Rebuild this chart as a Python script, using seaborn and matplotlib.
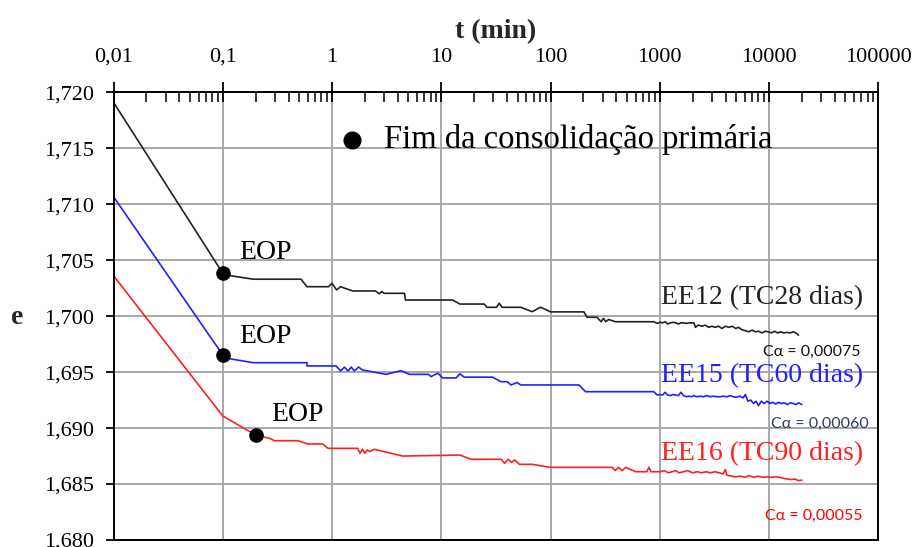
import matplotlib
matplotlib.use("Agg")
import matplotlib.pyplot as plt
import matplotlib.ticker as mticker
import numpy as np
import pandas as pd
import seaborn as sns

# ---- data: void ratio e versus time t (min) ----
t_ee12 = [0.01, 0.1, 0.12, 0.19, 0.52, 0.59, 0.93, 1.0, 1.1, 1.2, 1.3, 1.55, 2.5, 2.7,
          2.85, 3.0, 4.6, 4.7, 12.7, 14.8, 24.7, 26.2, 32, 33.9, 36, 53.5, 68, 81, 100,
          202, 216, 267, 290, 305, 320, 340, 394, 880,
          950, 1000, 1060, 1120, 1180, 1250, 1320, 1400, 1480, 1560, 1650, 1750, 1850,
          1950, 2050, 2120, 2250, 2440, 2600, 2800, 3000, 3200, 3450, 3700, 4000, 4300,
          4600, 4950, 5270, 5600, 6070, 6500, 7000, 7500, 8000, 8600, 9200, 9800, 10500,
          11200, 12000, 12800, 13700, 14600, 15600, 16600, 17600, 18600]
e_ee12 = [1.7191, 1.70383, 1.7036, 1.7033, 1.7033, 1.70263, 1.70263, 1.70293, 1.70234,
          1.70264, 1.7025, 1.70225, 1.70225, 1.7020, 1.7022, 1.70204, 1.70204, 1.70144,
          1.70144, 1.70108, 1.70108, 1.70079, 1.70079, 1.70115, 1.70079, 1.70079,
          1.7004, 1.7008, 1.70038, 1.70038, 1.6999, 1.6999, 1.6995, 1.6998, 1.6995,
          1.6997, 1.6995, 1.6995,
          1.69935, 1.69945, 1.6994, 1.6995, 1.6993, 1.6994, 1.69945, 1.6994, 1.6993,
          1.6994, 1.6994, 1.69935, 1.6994, 1.6994, 1.6994, 1.6990, 1.6992, 1.6991,
          1.6992, 1.6990, 1.6991, 1.6990, 1.6991, 1.6989, 1.6991, 1.6990, 1.6991,
          1.6989, 1.6990, 1.6988, 1.6987, 1.6986, 1.69875, 1.6986, 1.69865, 1.6985,
          1.69865, 1.6986, 1.6985, 1.69865, 1.6985, 1.6986, 1.6985, 1.69855, 1.6985,
          1.6986, 1.6985, 1.6983]

t_ee15 = [0.01, 0.1, 0.11, 0.19, 0.59, 0.59, 1.09, 1.2, 1.3, 1.4, 1.5, 1.6, 1.75, 1.9,
          3.13, 4.28, 5.1, 7.6, 8.05, 9.3, 10.3, 13.7, 14.8, 16.2, 29.4, 35.3, 40, 43.6,
          49.3, 53.5, 182, 209, 881, 944,
          1000, 1060, 1120, 1180, 1250, 1320, 1400, 1480, 1560, 1650, 1750, 1850, 1950,
          2050, 2200, 2350, 2500, 2700, 2900, 3100, 3300, 3550, 3800, 4100, 4400, 4700,
          5000, 5400, 5800, 6070, 6400, 6800, 7200, 7600, 8000, 8500, 9000, 9600, 10200,
          10800, 11500, 12200, 13000, 13800, 14700, 15600, 16600, 17600, 18700, 19950]
e_ee15 = [1.71067, 1.69653, 1.69623, 1.69584, 1.69584, 1.69555, 1.69555, 1.6951,
          1.69545, 1.6951, 1.69545, 1.6951, 1.69545, 1.69519, 1.6948, 1.69513, 1.6948,
          1.6948, 1.6946, 1.6949, 1.69448, 1.69448, 1.69485, 1.69455, 1.69455, 1.69414,
          1.69414, 1.69385, 1.69407, 1.69385, 1.69385, 1.69325, 1.69325, 1.69296,
          1.6930, 1.69295, 1.6932, 1.69295, 1.6929, 1.6930, 1.69295, 1.6929, 1.6932,
          1.6929, 1.6928, 1.69285, 1.6928, 1.6929, 1.6928, 1.69285, 1.6928, 1.6929,
          1.6928, 1.69285, 1.6928, 1.6928, 1.69285, 1.6928, 1.6929, 1.6928, 1.69275,
          1.69285, 1.6927, 1.6930, 1.6924, 1.6925, 1.6922, 1.6924, 1.6920, 1.6924,
          1.6922, 1.6924, 1.6922, 1.6923, 1.69215, 1.6923, 1.6922, 1.69225, 1.6921,
          1.69225, 1.6922, 1.6921, 1.69225, 1.6921]

t_ee16 = [0.01, 0.1, 0.2, 0.268, 0.298, 0.486, 0.6, 0.82, 0.92, 1.72, 1.8, 1.9, 2.0,
          2.1, 2.2, 2.44, 4.43, 14.8, 18.7, 35.3, 38, 41, 44, 47, 52, 68, 100, 366, 390,
          420, 450, 490, 600, 760, 794, 830, 1000,
          1100, 1200, 1300, 1400, 1500, 1650, 1800, 2000, 2200, 2400, 2650, 2900, 3200,
          3500, 3800, 3980, 4100, 4500, 5000, 5500, 6000, 6600, 7200, 8000, 8800, 9600,
          10500, 11500, 12500, 13600, 14800, 16000, 17300, 18600, 20000]
e_ee16 = [1.70361, 1.69108, 1.68938, 1.68908, 1.68887, 1.68887, 1.68858, 1.68858,
          1.68819, 1.68819, 1.68774, 1.6881, 1.68775, 1.68805, 1.6879, 1.6881, 1.6875,
          1.68759, 1.68721, 1.68721, 1.68685, 1.68721, 1.68694, 1.68715, 1.68676,
          1.68676, 1.68649, 1.68649, 1.6862, 1.68649, 1.6862, 1.68649, 1.6861, 1.6861,
          1.68649, 1.6861, 1.6861,
          1.6862, 1.6860, 1.6861, 1.6862, 1.6860, 1.6861, 1.6862, 1.6860, 1.6861,
          1.6860, 1.6861, 1.6860, 1.6861, 1.6860, 1.6859, 1.6863, 1.6858, 1.6857,
          1.68565, 1.6857, 1.6856, 1.68575, 1.6856, 1.6857, 1.6856, 1.68565, 1.6856,
          1.68565, 1.6856, 1.6855, 1.68545, 1.6854, 1.68545, 1.6853, 1.68535]

# end of primary consolidation (EOP) points
eop_t = [0.1, 0.1, 0.2]
eop_e = [1.70383, 1.69653, 1.68938]

series_names = ["EE12 (TC28 dias)", "EE15 (TC60 dias)", "EE16 (TC90 dias)"]
series_colors = ["#222222", "#2020ff", "#ff2020"]
calpha_labels = ["Cα = 0,00075", "Cα = 0,00060", "Cα = 0,00055"]
calpha_colors = ["#111111", "#2b3f5c", "#ff0000"]

x_ticks = [0.01, 0.1, 1, 10, 100, 1000, 10000, 100000]
x_tick_labels = ["0,01", "0,1", "1", "10", "100", "1000", "10000", "100000"]
y_ticks = [1.680, 1.685, 1.690, 1.695, 1.700, 1.705, 1.710, 1.715, 1.720]
y_tick_labels = ["1,680", "1,685", "1,690", "1,695", "1,700", "1,705", "1,710",
                 "1,715", "1,720"]

df = pd.concat([
    pd.DataFrame({"t": t_ee12, "e": e_ee12, "ensaio": series_names[0]}),
    pd.DataFrame({"t": t_ee15, "e": e_ee15, "ensaio": series_names[1]}),
    pd.DataFrame({"t": t_ee16, "e": e_ee16, "ensaio": series_names[2]}),
], ignore_index=True)

sns.set_theme(style="white")
plt.rcParams["font.family"] = ["Liberation Serif", "DejaVu Serif"]

fig = plt.figure(figsize=(9.17, 5.47), dpi=100)
ax = fig.add_axes([0.1238, 0.0128, 0.8340, 0.8185])
ax.set_xscale("log")

sns.lineplot(data=df, x="t", y="e", hue="ensaio", units="ensaio",
             palette=dict(zip(series_names, series_colors)),
             estimator=None, sort=False, lw=1.2, legend=False, ax=ax)

ax.plot(eop_t, eop_e, "o", color="black", ms=9.5, zorder=5, ls="none")

ax.set_xlim(0.01, 100000)
ax.set_ylim(1.680, 1.720)

# axis styling
ax.xaxis.tick_top()
ax.xaxis.set_label_position("top")
ax.set_xticks(x_ticks)
ax.set_xticklabels(x_tick_labels)
ax.xaxis.set_minor_locator(mticker.LogLocator(base=10, subs=np.arange(2, 10), numticks=20))
ax.xaxis.set_minor_formatter(mticker.NullFormatter())
ax.set_yticks(y_ticks)
ax.set_yticklabels(y_tick_labels)

ax.tick_params(axis="x", which="major", direction="inout", length=15, width=1.3,
               labelsize=16, pad=11, colors="black")
ax.tick_params(axis="x", which="minor", direction="in", length=7, width=1.3,
               top=True, bottom=False)
ax.tick_params(axis="y", which="major", direction="out", length=6, width=1.3,
               labelsize=16, pad=8, left=True, colors="black")

ax.grid(True, which="major", color="#a8a8a8", lw=1.4)
ax.set_axisbelow(True)
for sp in ax.spines.values():
    sp.set_color("black")
    sp.set_linewidth(1.4)
    sp.set_visible(True)

ax.set_xlabel("t (min)", fontsize=20, fontweight="bold", labelpad=7)
ax.set_ylabel("e", fontsize=20, fontweight="bold", rotation=0, labelpad=0,
              va="center", ha="center")
ax.yaxis.set_label_coords(-0.126, 0.497)

# annotations
for (tx, ey) in [(0.141, 1.7057), (0.141, 1.6982), (0.276, 1.6912)]:
    ax.text(tx, ey, "EOP", fontsize=20, va="center", ha="left", color="black")

ax.plot([1.52], [1.71574], "o", color="black", ms=12)
ax.text(3.0, 1.71574, "Fim da consolidação primária", fontsize=23.5, va="center",
        ha="left", color="black")

for name, col, ey in zip(series_names, series_colors, [1.70162, 1.69465, 1.68768]):
    ax.text(1030, ey, name, fontsize=20, va="center", ha="left", color=col)

for lab, col, tx, ey in zip(calpha_labels, calpha_colors, [8810, 10400, 9180],
                            [1.6968, 1.69036, 1.68214]):
    ax.text(tx, ey, lab, fontsize=11.5, va="center", ha="left", color=col,
            family=["Lato", "DejaVu Sans"])

fig.savefig("out.png", dpi=100)
